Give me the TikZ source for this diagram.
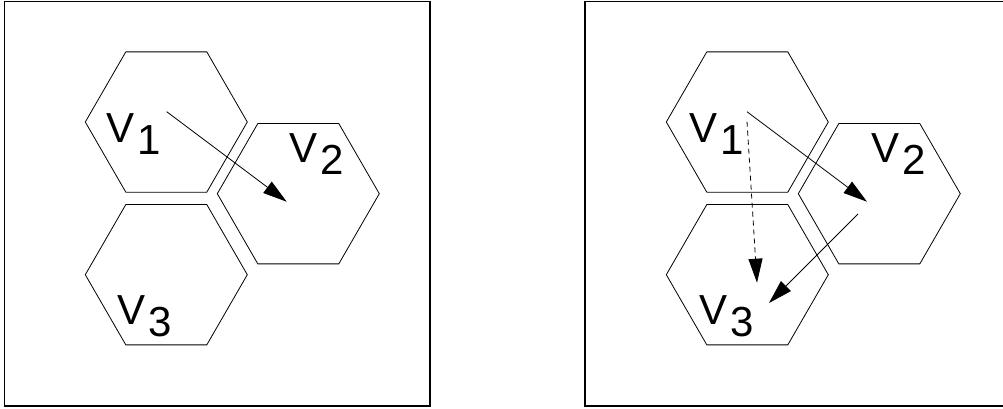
\documentclass[tikz,border=0pt]{standalone}
\usepackage{fontspec}
\setmainfont{Liberation Sans}
\usetikzlibrary{arrows.meta}
\begin{document}
\begin{tikzpicture}[x=1pt,y=-1pt,
  hexline/.style={line width=0.8pt},
  framebox/.style={line width=1.8pt},
  flow/.style={line width=0.8pt,-{Triangle[length=24pt,width=14pt]}},
  flowdash/.style={flow,dash pattern=on 5pt off 4pt},
  lbl/.style={anchor=base west,inner sep=0pt,font=\fontsize{42}{42}\selectfont}]
\useasboundingbox (0,0) rectangle (1003,408);
% frames
\draw[framebox] (4.5,1.5) rectangle (430,406);
\draw[framebox] (1003,1.5) -- (585,1.5) -- (585,406) -- (1003,406);
% hexagons
\foreach \cx/\cy in {166.3/122, 298.3/193.7, 166.3/274.7, 747.3/122, 879.3/193.7, 747.3/274.7}{
  \draw[hexline] (\cx,\cy) ++(0:81) -- ++(120:81) -- ++(180:81) -- ++(240:81) -- ++(300:81) -- ++(0:81) -- cycle;
}
% labels left
\node[lbl] (la1) at (106,142) {V\hspace{3pt}\raisebox{-12pt}{1}};
\node[lbl] (la2) at (289,162) {V\hspace{3pt}\raisebox{-12pt}{2}};
\node[lbl] (la3) at (117,324) {V\hspace{3pt}\raisebox{-12pt}{3}};
% labels right
\node[lbl] (lb1) at (689,142) {V\hspace{3pt}\raisebox{-12pt}{1}};
\node[lbl] (lb2) at (871,162) {V\hspace{3pt}\raisebox{-12pt}{2}};
\node[lbl] (lb3) at (699,324) {V\hspace{3pt}\raisebox{-12pt}{3}};
% arrow endpoints
\coordinate (a1) at (166.7,111.7);
\coordinate (a2) at (286.7,201.7);
\coordinate (b1) at (747,111.7);
\coordinate (b2) at (867,201.7);
\coordinate (c1) at (747,121.7);
\coordinate (c2) at (757,282.7);
\coordinate (d1) at (858,214);
\coordinate (d2) at (769,303);
\draw[flow] (a1) -- (a2);
\draw[flow] (b1) -- (b2);
\draw[flowdash] (c1) -- (c2);
\draw[flow] (d1) -- (d2);
\end{tikzpicture}
\end{document}
